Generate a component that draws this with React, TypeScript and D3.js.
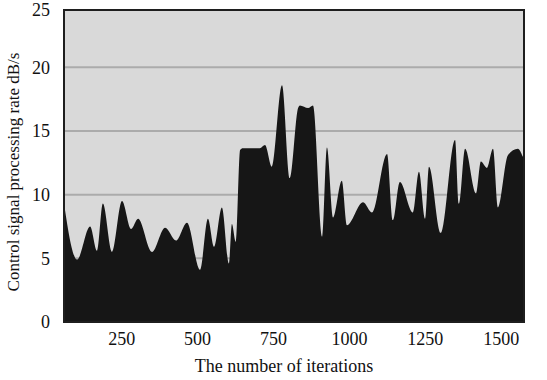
import * as d3 from "d3";

// iterations and rate (dB/s)
const iterations = [
  60, 103, 146, 169, 188, 218, 251, 281, 304, 350, 393, 429, 465, 508, 534, 554,
  580, 603, 613, 626, 640, 649, 705, 722, 745, 778, 804, 831, 837, 864, 880, 910,
  926, 946, 975, 992, 1045, 1074, 1124, 1143, 1166, 1209, 1229, 1249, 1262, 1301,
  1348, 1361, 1381, 1417, 1433, 1453, 1473, 1489, 1522, 1555, 1571, 1575,
];
const rates = [
  9.3, 4.9, 7.5, 5.6, 9.3, 5.5, 9.5, 7.3, 8.1, 5.5, 7.4, 6.4, 7.8, 4.1, 8.1, 5.9,
  9.0, 4.6, 7.7, 6.3, 13.5, 13.65, 13.65, 13.9, 12.2, 18.6, 11.3, 16.8, 17.0, 16.8, 17.0, 6.7,
  13.7, 8.2, 11.1, 7.6, 9.4, 8.6, 13.2, 8.0, 11.0, 8.6, 11.8, 8.1, 12.2, 7.0,
  14.3, 9.3, 13.6, 10.1, 12.6, 12.1, 13.6, 9.0, 13.1, 13.6, 13.0, 12.8,
];
const xTicks = [250, 500, 750, 1000, 1250, 1500];
const yTicks = [0, 5, 10, 15, 20, 25];
const gridValues = [5, 10, 15, 20];

const W = 547;
const H = 380;
const left = 64;
const right = 524;
const top = 10;
const bottom = 322;

export default function App() {
  const data = iterations.map((it, i) => ({ it, v: rates[i] }));

  const x = d3.scaleLinear().domain([60, 1575]).range([left, right]);
  const y = d3.scaleLinear().domain([0, 24.5]).range([bottom, top]);

  const area = d3
    .area<{ it: number; v: number }>()
    .x((d) => x(d.it))
    .y0(y(0))
    .y1((d) => y(d.v))
    .curve(d3.curveMonotoneX);

  return (
    <svg width={W} height={H} style={{ position: "absolute", left: 0, top: 0 }}>
      <rect x={left} y={top} width={right - left} height={bottom - top} fill="#d9d9d9" />
      {gridValues.map((g) => (
        <line key={g} x1={left} x2={right} y1={y(g)} y2={y(g)} stroke="#ababab" strokeWidth={2} />
      ))}
      <path d={area(data) ?? ""} fill="#161616" />
      <rect
        x={left}
        y={top}
        width={right - left}
        height={bottom - top}
        fill="none"
        stroke="#1e1e1e"
        strokeWidth={2}
      />
      <g fontFamily="Liberation Serif" fontSize={18} fill="#111">
        {yTicks.map((t) => (
          <text key={t} x={50} y={y(Math.min(t, 24.5))} dy="0.35em" textAnchor="end">
            {t}
          </text>
        ))}
        {xTicks.map((t) => (
          <text key={t} x={x(t)} y={345} textAnchor="middle">
            {t}
          </text>
        ))}
        <text x={284} y={372} textAnchor="middle">
          The number of iterations
        </text>
        <text
          transform={`translate(19,${(top + bottom) / 2 + 6}) rotate(-90)`}
          textAnchor="middle"
          fontSize={17}
        >
          Control signal processing rate dB/s
        </text>
      </g>
    </svg>
  );
}
